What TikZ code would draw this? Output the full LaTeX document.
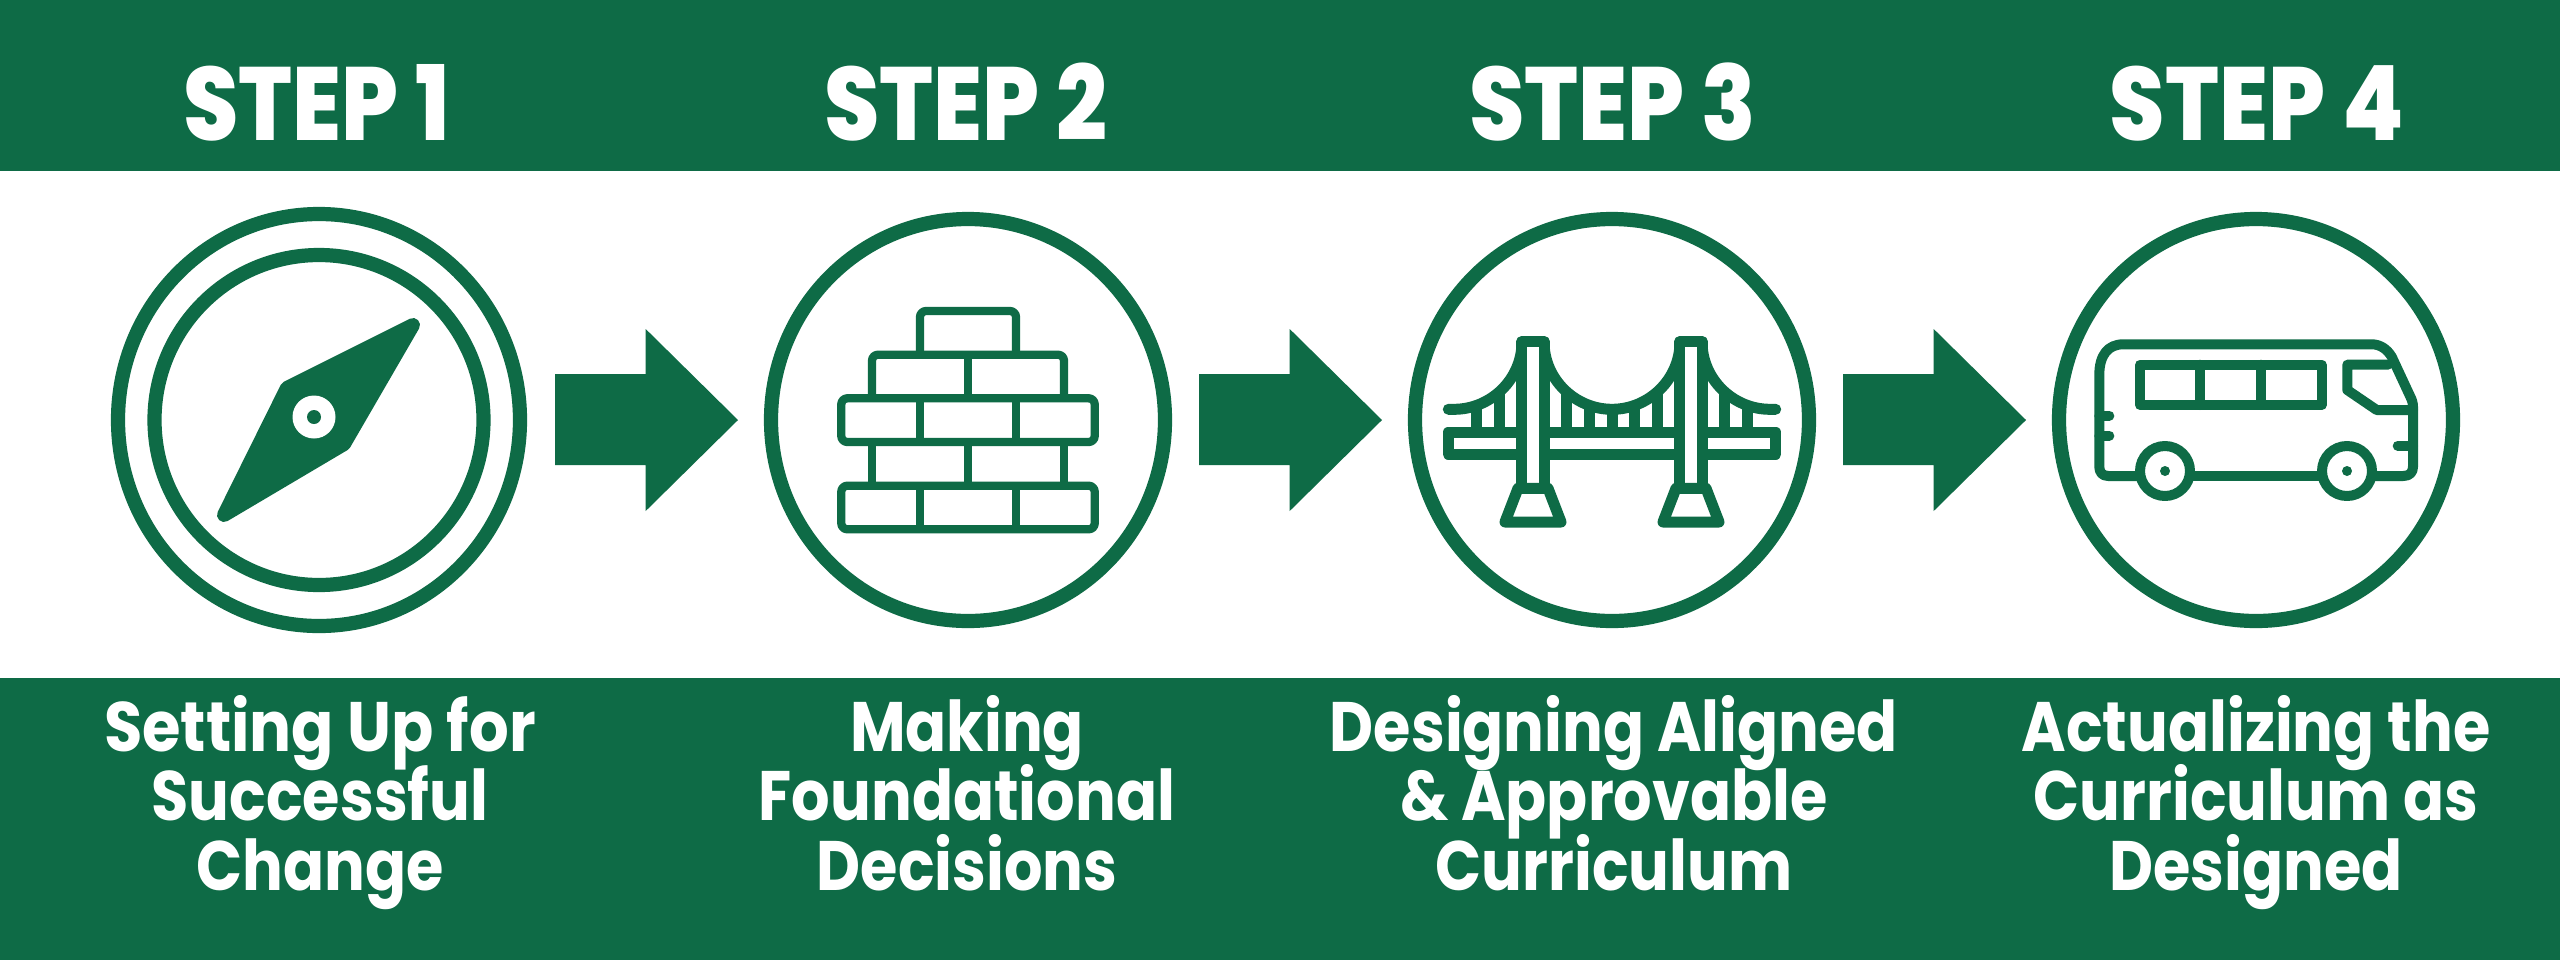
\documentclass[tikz,border=0pt]{standalone}
\usepackage{fontspec}
\setmainfont{Poppins}
\newfontfamily\headfont{Poppins ExtraBold}[FakeStretch=0.86]
\newfontfamily\capfont{Poppins Bold}[FakeStretch=0.865]
\definecolor{brand}{HTML}{0E6B46}
\tikzset{
  x=0.5pt,y=-0.5pt,
  band/.style={fill=brand,draw=none},
  ring/.style={draw=brand,line width=7.1pt,fill=white},
  pointer/.style={fill=brand,draw=none},
  needle/.style={fill=brand,draw=brand,line width=7pt,line join=round},
  heading/.style={text=white,font=\headfont\fontsize{52}{52}\selectfont,inner sep=0pt,anchor=base},
  caption/.style={text=white,font=\capfont\fontsize{35}{35}\selectfont,inner sep=0pt,anchor=base},
  brick/.style={draw=brand,line width=4.15pt,rounded corners=3pt,line join=round},
  brickjoint/.style={draw=brand,line width=4.15pt},
  bridgeline/.style={draw=brand,line width=5.5pt,line join=round,line cap=round},
  busline/.style={draw=brand,line width=5pt,line join=round,line cap=round},
}
\begin{document}
\begin{tikzpicture}
\useasboundingbox (0,0) rectangle (2560,960);
\fill[white] (0,0) rectangle (2560,960);
\path[band] (0,0) rectangle (2560,171);
\path[band] (0,678) rectangle (2560,960);
% headings
\node[heading] (h1) at (317,140.5) {STEP 1};
\node[heading] (h2) at (966,140.5) {STEP 2};
\node[heading] (h3) at (1613,140.5) {STEP 3};
\node[heading] (h4) at (2257,140.5) {STEP 4};
% circles
\path[ring] (319,420) ellipse [x radius=201,y radius=206];
\path[ring] (319,420) ellipse [x radius=164.5,y radius=165];
\path[ring] (968,420) ellipse [x radius=197,y radius=201];
\path[ring] (1612,420) ellipse [x radius=197,y radius=201];
\path[ring] (2256,420) ellipse [x radius=197,y radius=201];
% compass needle
\path[needle] (413,325) -- (344,444) -- (224,515) -- (287,388) -- cycle;
\path[fill=white] (314,417) circle [radius=21.5];
\path[fill=brand] (314,417) circle [radius=7];
% arrows
\foreach \d in {0,644,1288}{
  \path[pointer] (555+\d,374) -- (645.7+\d,374) -- (645.7+\d,329) -- (738+\d,420) -- (645.7+\d,511) -- (645.7+\d,465) -- (555+\d,465) -- cycle;
}
% bricks
\draw[brick] (920,354.7) -- (920,311) -- (1016,311) -- (1016,354.7);
\draw[brick] (872,398.3) -- (872,354.7) -- (1064,354.7) -- (1064,398.3);
\draw[brick] (841.3,398.3) rectangle (1094.7,442);
\draw[brick] (841.3,485.7) rectangle (1094.7,529.3);
\foreach \jx/\ja/\jb in {968/354.7/398.3,920/398.3/442,1016/398.3/442,872/442/485.7,968/442/485.7,1064/442/485.7,920/485.7/529.3,1016/485.7/529.3}{
  \draw[brickjoint] (\jx,\ja) -- (\jx,\jb);
}
% bridge
\foreach \hxp/\hy in {1476.7/405,1499/392,1566.7/392,1589.3/405,1612/409,1634.7/405,1657/392,1724.7/392,1747.3/405}{
  \draw[bridgeline,line cap=butt] (\hxp,432) -- (\hxp,\hy);
}
\draw[bridgeline] (1522,342) .. controls (1522,379) and (1491,409.3) .. (1454,409.3) -- (1448.3,409.3);
\draw[bridgeline] (1544,342) .. controls (1544,379) and (1575,409.3) .. (1612,409.3) .. controls (1649,409.3) and (1680,379) .. (1680,342);
\draw[bridgeline] (1702,342) .. controls (1702,379) and (1733,409.3) .. (1770,409.3) -- (1775.7,409.3);
\draw[bridgeline,fill=white] (1448.3,432) rectangle (1775.7,454.3);
\foreach \d in {0,158}{
  \draw[bridgeline,fill=white] (1521.8+\d,490) -- (1521.8+\d,341.7) -- (1544.2+\d,341.7) -- (1544.2+\d,490);
  \draw[bridgeline,fill=white] (1518+\d,488.3) -- (1548+\d,488.3) -- (1561+\d,522) -- (1505+\d,522) -- cycle;
}
% bus
\coordinate (wa) at (2165,471);
\coordinate (wb) at (2347,471);
\draw[busline] (2160,476) -- (2108.3,476) .. controls (2102,476) and (2099.3,472) .. (2099.3,466.7) -- (2099.3,375)
  .. controls (2099.3,355) and (2108,344.3) .. (2123.3,344.3) -- (2371.7,344.3)
  .. controls (2380,344.3) and (2387,349) .. (2391.7,356.7) -- (2410,396) .. controls (2412,400) and (2413,403) .. (2413,407)
  -- (2413,466.7) .. controls (2413,472) and (2410,476) .. (2403.3,476) -- (2350,476);
\draw[busline] (2170,476) -- (2345,476);
\draw[busline] (2140,364.7) rectangle (2321.7,405);
\draw[busline] (2200.3,364.7) -- (2200.3,405);
\draw[busline] (2261.2,364.7) -- (2261.2,405);
\draw[busline] (2388,364.7) -- (2347.3,364.7) -- (2347.3,390) -- (2376.7,410) -- (2413,410);
\draw[busline] (2099.3,415.7) -- (2109.3,415.7);
\draw[busline] (2099.3,435.7) -- (2109.3,435.7);
\draw[busline] (2413,445.7) -- (2397.7,445.7);
\path[busline,fill=white] (wa) circle [radius=25];
\path[busline,fill=white] (wb) circle [radius=25];
\path[fill=brand] (wa) circle [radius=5];
\path[fill=brand] (wb) circle [radius=5];
% captions
\node[caption] (c1a) at (320,751) {\scalebox{1.03}[1]{Setting Up for}};
\node[caption] (c1b) at (320,820) {Successful};
\node[caption] (c1c) at (320,890) {Change};
\node[caption] (c2a) at (967,751) {Making};
\node[caption] (c2b) at (967,820) {Foundational};
\node[caption] (c2c) at (967,890) {Decisions};
\node[caption] (c3a) at (1614,751) {Designing Aligned};
\node[caption] (c3b) at (1614,820) {\& Approvable};
\node[caption] (c3c) at (1614,890) {Curriculum};
\node[caption] (c4a) at (2256,751) {Actualizing the};
\node[caption] (c4b) at (2256,820) {Curriculum as};
\node[caption] (c4c) at (2256,890) {Designed};
\end{tikzpicture}
\end{document}
